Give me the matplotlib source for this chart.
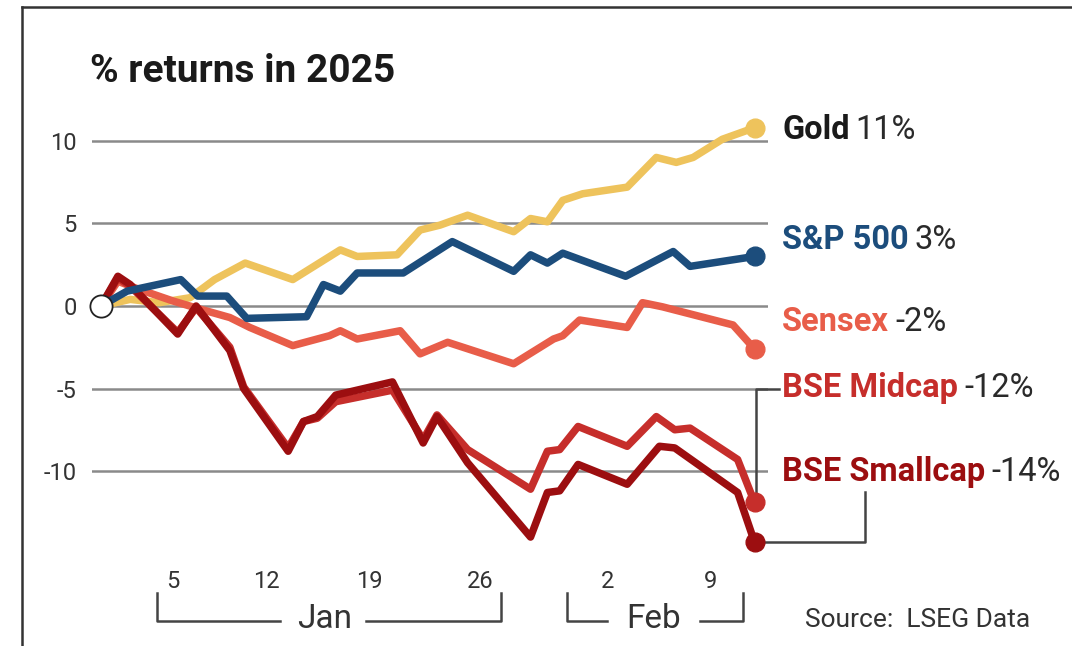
import matplotlib
matplotlib.use("Agg")
import matplotlib.pyplot as plt
from matplotlib import font_manager
from matplotlib.lines import Line2D

names = {f.name for f in font_manager.fontManager.ttflist}
FONT = 'Liberation Sans Narrow' if 'Liberation Sans Narrow' in names else 'Roboto'
plt.rcParams['font.family'] = FONT

# x = days from 31 Dec 2024 as spaced on the chart, y = % return
gold_x = [0, 1.9, 3.8, 5.8, 7.4, 9.4, 12.5, 15.6, 16.7, 19.3, 20.8, 22.1, 23.9, 26.9, 28.0, 29.1, 30.1, 31.4, 34.3, 36.2, 37.5, 38.6, 40.5, 42.6]
gold_y = [0, 0.4, 0.2, 0.5, 1.6, 2.6, 1.6, 3.4, 3.0, 3.1, 4.6, 4.9, 5.5, 4.5, 5.3, 5.1, 6.4, 6.8, 7.2, 9.0, 8.7, 9.0, 10.1, 10.8]

sp_x = [0, 1.7, 5.2, 6.3, 8.2, 9.5, 13.4, 14.5, 15.6, 16.7, 19.7, 22.9, 26.9, 28.0, 29.1, 30.1, 34.2, 37.3, 38.4, 42.6]
sp_y = [0, 0.9, 1.6, 0.6, 0.6, -0.75, -0.65, 1.3, 0.9, 2.0, 2.0, 3.9, 2.1, 3.1, 2.6, 3.2, 1.8, 3.3, 2.4, 3.0]

sensex_x = [0, 1.1, 2.5, 4.7, 6.5, 8.4, 9.7, 12.5, 14.9, 15.6, 16.7, 19.5, 20.8, 22.6, 26.9, 29.5, 30.1, 31.2, 34.3, 35.3, 36.6, 41.2, 42.6]
sensex_y = [0, 1.5, 1.0, 0.3, -0.2, -0.7, -1.3, -2.4, -1.8, -1.5, -2.0, -1.5, -2.9, -2.2, -3.5, -2.0, -1.8, -0.85, -1.3, 0.2, -0.05, -1.15, -2.6]

midcap_x = [0, 1.1, 1.9, 5.0, 6.2, 8.4, 9.3, 12.2, 13.2, 14.1, 15.3, 19.0, 21.0, 21.9, 23.9, 28.0, 29.1, 29.9, 31.1, 34.3, 36.2, 37.4, 38.4, 41.5, 42.6]
midcap_y = [0, 1.7, 1.2, -1.6, -0.1, -2.5, -4.9, -8.6, -7.0, -6.8, -5.8, -5.1, -8.1, -6.6, -8.7, -11.1, -8.8, -8.7, -7.3, -8.5, -6.7, -7.5, -7.4, -9.3, -11.9]

small_x = [0, 1.1, 1.9, 5.0, 6.2, 8.4, 9.3, 12.2, 13.2, 14.1, 15.3, 19.0, 21.0, 21.9, 23.9, 28.0, 29.1, 29.9, 31.1, 34.3, 36.4, 37.4, 41.5, 42.6]
small_y = [0, 1.8, 1.3, -1.7, 0.0, -2.7, -5.0, -8.8, -7.0, -6.7, -5.4, -4.6, -8.3, -6.7, -9.5, -14.0, -11.3, -11.2, -9.6, -10.8, -8.5, -8.6, -11.3, -14.3]

tick_pos = [4.7, 10.8, 17.5, 24.7, 33.0, 39.7]
tick_labels = ['5', '12', '19', '26', '2', '9']
grid_vals = [10, 5, 0, -5, -10]

names_bold = ['Gold', 'S&P 500', 'Sensex', 'BSE Midcap', 'BSE Smallcap']
end_texts = ['11%', '3%', '-2%', '-12%', '-14%']
label_y = [130, 240, 322, 388, 472]   # pixel rows of the end labels

c_gold = '#eec35c'
c_sp = '#1c4d7c'
c_sensex = '#e85d49'
c_mid = '#c62e2b'
c_small = '#9c0e10'
colors = [c_gold, c_sp, c_sensex, c_mid, c_small]

W, H = 1072, 646
fig = plt.figure(figsize=(W / 100, H / 100), dpi=100)
ax = fig.add_axes([92 / W, 1 - 560 / H, 676 / W, 460 / H])
ax.set_xlim(-0.587, 43.48)
ax.set_ylim(-15.39, 12.48)
for s in ax.spines.values():
    s.set_visible(False)

for g in grid_vals:
    ax.axhline(g, color='#8a8a8a', lw=1.8, zorder=1)

lw = 5.4
ax.plot(gold_x, gold_y, color=c_gold, lw=lw, zorder=2)
ax.plot(sensex_x, sensex_y, color=c_sensex, lw=lw, zorder=3)
ax.plot(midcap_x, midcap_y, color=c_mid, lw=lw, zorder=4)
ax.plot(small_x, small_y, color=c_small, lw=lw, zorder=5)
ax.plot(sp_x, sp_y, color=c_sp, lw=lw, zorder=6)

for xs, ys, c in [(gold_x, gold_y, c_gold), (sp_x, sp_y, c_sp), (sensex_x, sensex_y, c_sensex),
                  (midcap_x, midcap_y, c_mid), (small_x, small_y, c_small)]:
    ax.plot(xs[-1], ys[-1], 'o', color=c, ms=13.5, zorder=7, clip_on=False)
ax.plot(0, 0, 'o', ms=16, mfc='white', mec='#222222', mew=1.3, zorder=8, clip_on=False)

# leader lines for the two lower labels
ax.plot([midcap_x[-1] + 0.1, midcap_x[-1] + 0.1, midcap_x[-1] + 1.6],
        [midcap_y[-1] + 0.4, -5.05, -5.05], color='#444444', lw=1.8, zorder=1, clip_on=False)
ax.plot([small_x[-1], 49.8, 49.8], [small_y[-1], small_y[-1], -11.3],
        color='#444444', lw=1.8, zorder=1, clip_on=False)

ax.set_yticks(grid_vals)
ax.set_yticklabels([str(g) for g in grid_vals], fontsize=17, color='#333333')
ax.tick_params(axis='y', length=0, pad=11)
ax.set_xticks(tick_pos)
ax.set_xticklabels(tick_labels, fontsize=17, color='#333333')
ax.tick_params(axis='x', length=0, pad=7)

# month brackets
tr = ax.get_xaxis_transform()
bt, bb = (560 - 593) / 460, (560 - 621) / 460
for x0, x1, xa, xb, name, xm in [(3.65, 26.1, 11.7, 17.3, 'Jan', 14.6), (30.4, 41.85, 33.0, 39.05, 'Feb', 36.0)]:
    ax.plot([x0, x0, xa], [bt, bb, bb], color='#444444', lw=1.8, transform=tr, clip_on=False)
    ax.plot([xb, x1, x1], [bb, bb, bt], color='#444444', lw=1.8, transform=tr, clip_on=False)
    ax.text(xm, bb + 0.005, name, transform=tr, fontsize=24, color='#333333', ha='center', va='center')

# title and source
fig.text(90 / W, 1 - 72 / H, '% returns in 2025', fontsize=28, fontweight='bold', color='#1a1a1a', va='center')
fig.text(805 / W, 1 - 620 / H, 'Source:  LSEG Data', fontsize=19, color='#333333', va='center')

# frame
fig.add_artist(Line2D([22 / W, 22 / W], [0, 1 - 7 / H], color='#333333', lw=1.8))
fig.add_artist(Line2D([22 / W, 1], [1 - 7 / H, 1 - 7 / H], color='#333333', lw=1.8))

# end labels: bold name followed by regular value
fig.canvas.draw()
r = fig.canvas.get_renderer()
for nm, val, py, c in zip(names_bold, end_texts, label_y, colors):
    nc = '#1a1a1a' if nm == 'Gold' else c
    t = fig.text(782 / W, 1 - py / H, nm, fontsize=23.5, fontweight='bold', color=nc, va='center')
    bb_ = t.get_window_extent(r)
    fig.text((bb_.x1 + 6) / W, 1 - py / H, val, fontsize=23.5, color='#2a2a2a', va='center')

fig.savefig('out.png', dpi=100)
